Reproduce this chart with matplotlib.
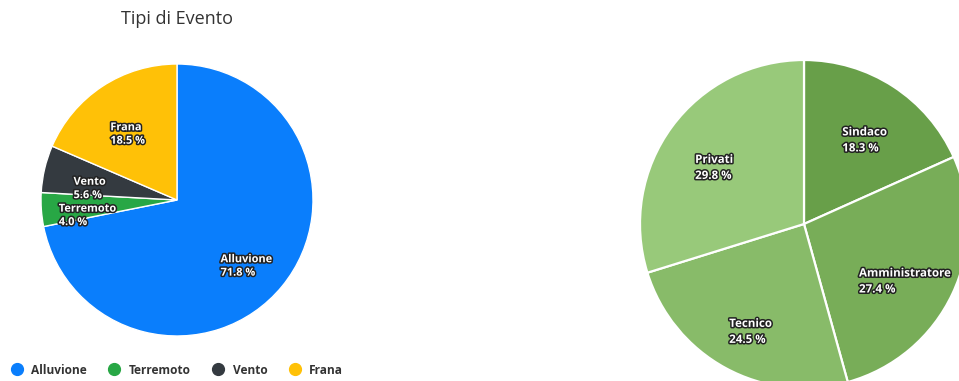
import numpy as np
import matplotlib
matplotlib.use("Agg")
import matplotlib.pyplot as plt
import matplotlib.patheffects as pe
from matplotlib.lines import Line2D

# Data
event_labels = ["Alluvione", "Terremoto", "Vento", "Frana"]
event_values = [71.8, 4.0, 5.6, 18.5]
event_colors = ["#0a7efc", "#28a745", "#343a40", "#ffc107"]

role_labels = ["Sindaco", "Amministratore", "Tecnico", "Privati"]
role_values = [18.3, 27.4, 24.5, 29.8]
role_colors = ["#689f49", "#78ad58", "#88bb69", "#98c97a"]

title = "Tipi di Evento"

W, H = 959, 381
fig = plt.figure(figsize=(W / 100, H / 100), dpi=100)
fig.patch.set_facecolor("white")

FONT = ["Open Sans", "DejaVu Sans"]


def pie_axes(cx, cy, r):
    # pixel center/radius -> axes covering [-1,1]x[-1,1]
    return fig.add_axes([(cx - r) / W, (H - cy - r) / H, 2 * r / W, 2 * r / H])


def draw_pie(ax, values, labels, colors, frac, r_px, lw, fs):
    ax.pie(values, colors=colors, startangle=90, counterclock=False,
           radius=1.0, wedgeprops=dict(edgecolor="white", linewidth=lw))
    total = sum(values)
    cum = 0.0
    dy = 9.5 / r_px  # label baseline shift (pixels -> data units)
    for v, lab in zip(values, labels):
        mid = cum + v / 2
        ang = np.deg2rad(90 - 360 * mid / total)
        cum += v
        x, y = frac * np.cos(ang), frac * np.sin(ang) - dy
        t = ax.text(x, y, f"{lab}\n{v:.1f} %", ha="center", va="center",
                    multialignment="left", color="white", fontsize=fs,
                    fontweight="bold", family=FONT, linespacing=1.3)
        t.set_path_effects([pe.withStroke(linewidth=2.2, foreground="#222222")])
    ax.set_xlim(-1, 1)
    ax.set_ylim(-1, 1)
    ax.set_aspect("equal")
    ax.axis("off")


ax1 = pie_axes(177, 200, 136)
draw_pie(ax1, event_values, event_labels, event_colors, 0.66, 136, 1.0, 7.9)

ax2 = pie_axes(804, 224, 164)
draw_pie(ax2, role_values, role_labels, role_colors, 0.68, 164, 1.6, 8.3)

fig.text(177 / W, 1 - 19 / H, title, ha="center", va="center",
         fontsize=13, color="#333333", family=FONT)

handles = [Line2D([0], [0], marker="o", linestyle="none", markersize=8.5,
                  markerfacecolor=c, markeredgecolor=c) for c in event_colors]
leg = fig.legend(handles, event_labels, loc="center", ncol=4,
                 bbox_to_anchor=(177 / W, 1 - 370 / H), frameon=False,
                 handletextpad=0.7, columnspacing=1.8, handlelength=1.0,
                 prop=dict(family=FONT, weight="bold", size=8.6))
for t in leg.get_texts():
    t.set_color("#333333")

fig.savefig("out.png", dpi=100, facecolor="white")
